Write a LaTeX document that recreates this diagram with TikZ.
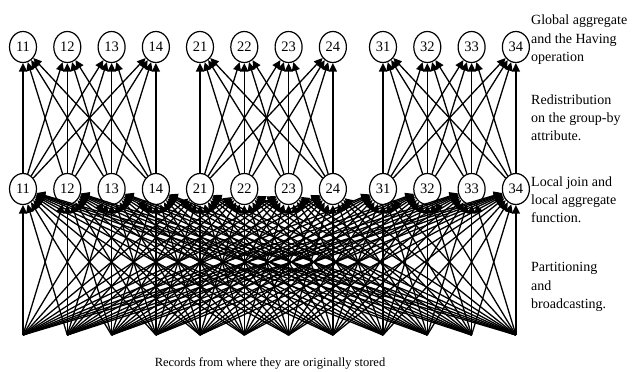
\documentclass[tikz,border=0pt]{standalone}
\usepackage{fontspec}
\setmainfont{Liberation Serif}
\usetikzlibrary{arrows.meta,shapes.geometric}
\tikzset{
  proc/.style={draw,ellipse,line width=1.2pt,minimum width=27pt,minimum height=31pt,inner sep=0pt,font=\fontsize{14.5}{14}\selectfont},
  arr/.style={-{Triangle[length=8.5pt,width=8pt]},line width=1.3pt},
  note/.style={anchor=north west,align=left,inner sep=0pt,font=\fontsize{14}{18.2}\selectfont}
}
\begin{document}
\begin{tikzpicture}[x=1pt,y=-1pt]
\useasboundingbox (0,0) rectangle (635,372);
% processors, three groups of four
\foreach \g/\x in {1/23,2/200,3/383}
 \foreach \i in {1,...,4}{
  \node[proc](t\g\i) at (\x+44.3*\i-44.3,47){\g\i};
  \node[proc](m\g\i) at (\x+44.3*\i-44.3,189){\g\i};
  \coordinate(s\g\i) at (\x+44.3*\i-44.3,335);
 }
% partitioning and broadcasting
\foreach \a in {11,12,13,14,21,22,23,24,31,32,33,34}
 \foreach \b in {11,12,13,14,21,22,23,24,31,32,33,34}
  \draw[arr](s\a)--(m\b);
% redistribution inside each group
\foreach \g in {1,2,3}
 \foreach \i in {1,...,4}
  \foreach \j in {1,...,4}
   \draw[arr](m\g\i)--(t\g\j);
\node[note](glob) at (531,15){Global aggregate\\and the Having\\operation};
\node[note](redi) at (531,94.5){Redistribution\\on the group-by\\attribute.};
\node[note](locl) at (531,176.5){Local join and\\local aggregate\\function.};
\node[note](part) at (531,262.5){Partitioning\\and\\broadcasting.};
\node[anchor=base,inner sep=0pt,font=\fontsize{12.5}{14}\selectfont](recs) at (270,366){Records from where they are originally stored};
\end{tikzpicture}
\end{document}
